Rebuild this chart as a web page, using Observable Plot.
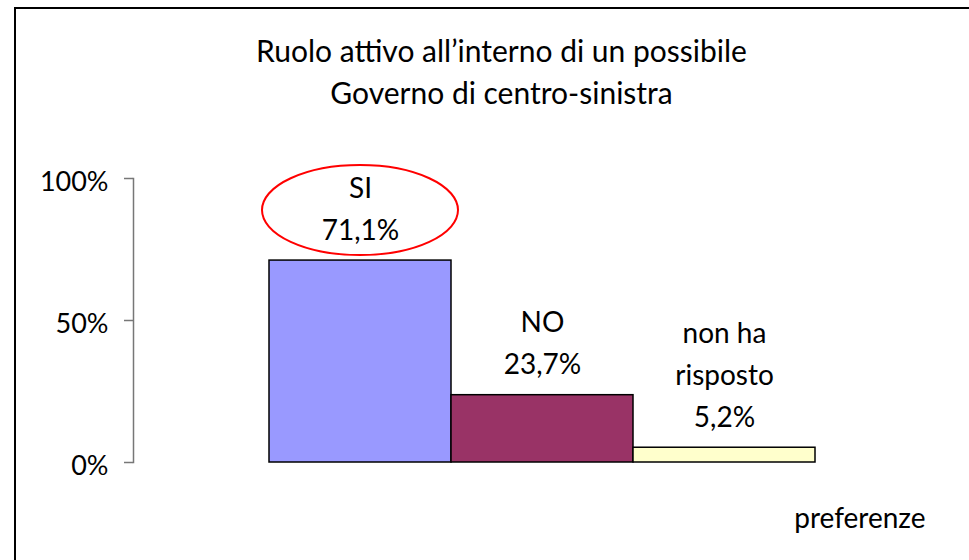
<!DOCTYPE html>
<html>
<head>
<meta charset="utf-8">
<script src="https://cdn.jsdelivr.net/npm/d3@7"></script>
<script src="https://cdn.jsdelivr.net/npm/@observablehq/plot@0.6"></script>
<style>
  html, body { margin: 0; padding: 0; overflow: hidden; background: white; }
  #wrap { position: relative; width: 969px; height: 560px; overflow: hidden; background: white; }
  #border { position: absolute; left: 14px; top: 7px; width: 1000px; height: 600px; border: 2px solid #000; }
  #chart { position: absolute; left: 0; top: 0; }
</style>
</head>
<body>
<div id="wrap">
  <div id="border"></div>
  <div id="chart"></div>
</div>
<script>
const categories = ["SI", "NO", "non ha risposto"];
const labelLines = ["SI", "NO", "non ha\nrisposto"];
const values = [71.1, 23.7, 5.2];
const colors = ["#9999FF", "#993366", "#FFFFCC"];
const yTicks = [0, 50, 100];
const titleText = "Ruolo attivo all\u2019interno di un possibile\nGoverno di centro-sinistra";
const xLabel = "preferenze";

const fmt = v => v.toFixed(1).replace(".", ",") + "%";
const data = categories.map((c, i) => ({
  cat: c,
  value: values[i],
  label: labelLines[i] + "\n" + fmt(values[i])
}));

const FONT = "Lato, 'Open Sans', sans-serif";

const plot = Plot.plot({
  width: 969,
  height: 560,
  marginLeft: 133,
  marginRight: 18,
  marginTop: 178,
  marginBottom: 98,
  style: { fontFamily: FONT, fontSize: "27px", color: "black", background: "transparent", overflow: "visible" },
  x: { domain: categories, paddingInner: 0, paddingOuter: 0.747, axis: null },
  y: { domain: [0, 100], axis: null },
  color: { domain: categories, range: colors },
  marks: [
    Plot.frame({ anchor: "left", stroke: "#777", strokeWidth: 1.5 }),
    Plot.axisY({
      ticks: yTicks, text: null, tickSize: 9,
      stroke: "#777", strokeWidth: 1.5, label: null
    }),
    Plot.axisY({
      ticks: yTicks, tickFormat: d => d + "%", tickSize: 0, tickPadding: 25,
      fill: "black", fontSize: 27, dy: 4, label: null
    }),
    Plot.barY(data, { x: "cat", y: "value", fill: "cat", stroke: "black", strokeWidth: 1.5 }),
    Plot.text(data, {
      x: "cat", y: "value", text: "label",
      lineAnchor: "bottom", lineHeight: 1.5, dy: -21,
      fontSize: 28, fill: "black"
    }),
    Plot.text([titleText], {
      frameAnchor: "top", dx: -41, dy: -75,
      lineAnchor: "bottom", lineHeight: 1.4,
      fontSize: 30, fill: "black"
    }),
    Plot.text([xLabel], {
      frameAnchor: "bottom-right", textAnchor: "end", dx: -26, dy: 65,
      lineAnchor: "bottom", fontSize: 28, fill: "black"
    })
  ]
});

// red ellipse annotation around the "SI" label
const xs = plot.scale("x");
const ys = plot.scale("y");
const cx = xs.apply("SI") + xs.bandwidth / 2;
const cy = ys.apply(values[0]) - 50;
d3.select(plot).append("ellipse")
  .attr("cx", cx).attr("cy", cy)
  .attr("rx", 98).attr("ry", 45)
  .attr("fill", "none").attr("stroke", "#FF0000").attr("stroke-width", 2);

document.getElementById("chart").appendChild(plot);
</script>
</body>
</html>
